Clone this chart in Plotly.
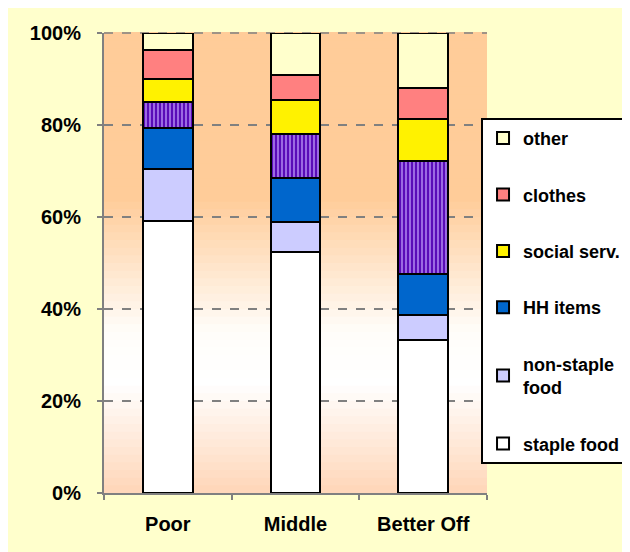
import plotly.graph_objects as go

groups = ["Poor", "Middle", "Better Off"]

# share of spending, percent (bottom to top of each bar)
staple_food = [59.1, 52.3, 33.2]
non_staple_food = [11.3, 6.7, 5.4]
hh_items = [9.0, 9.5, 9.1]
unlabelled = [5.5, 9.5, 24.5]  # hatched purple segment, not shown in legend
social_serv = [5.2, 7.4, 9.0]
clothes = [6.1, 5.4, 6.9]
other = [3.8, 9.2, 11.9]

y_ticks = [0, 20, 40, 60, 80, 100]
y_tick_labels = ["0%", "20%", "40%", "60%", "80%", "100%"]

series = [
    ("staple food", staple_food, "#FFFFFF", True),
    ("non-staple<br>food", non_staple_food, "#CCCCFF", True),
    ("HH items", hh_items, "#0066CC", True),
    ("unlabelled", unlabelled, "#5A0CB8", False),
    ("social serv.", social_serv, "#FFF200", True),
    ("clothes", clothes, "#FF8080", True),
    ("other", other, "#FFFFCC", True),
]

FONT = "Liberation Sans, Arial, sans-serif"

fig = go.Figure()
for i, (name, vals, color, show) in enumerate(series):
    marker = dict(color=color, line=dict(color="black", width=2))
    if not show:
        marker["pattern"] = dict(shape="|", fgcolor="#C9A8FF", bgcolor=color,
                                 size=4, solidity=0.3, fillmode="replace")
    fig.add_trace(go.Bar(x=groups, y=vals, name=name, marker=marker,
                         showlegend=show, legendgroup=f"g{i}",
                         legendrank=len(series) - i))


def mix(c1, c2, t):
    return "rgb({},{},{})".format(*[round(a + (b - a) * t) for a, b in zip(c1, c2)])


# background gradient of the plot area (orange at top, white in the middle)
stops = [(0.0, (255, 214, 184)), (0.24, (255, 255, 255)), (0.35, (255, 253, 250)),
         (0.64, (255, 204, 153)), (1.0, (255, 204, 153))]
n = 60
shapes = []
for k in range(n):
    y0, y1 = k / n, (k + 1) / n
    ym = (y0 + y1) / 2
    for (a, ca), (b, cb) in zip(stops[:-1], stops[1:]):
        if a <= ym <= b:
            col = mix(ca, cb, (ym - a) / (b - a))
            break
    shapes.append(dict(type="rect", xref="x domain", yref="y domain", x0=0, x1=1,
                       y0=y0, y1=y1 + 0.002, fillcolor=col, line_width=0, layer="below"))

# dashed gridline along the top edge
shapes.append(dict(type="line", xref="x domain", yref="y domain", x0=0, x1=1, y0=1, y1=1,
                   line=dict(color="#808080", width=1.5, dash="dash"), layer="below"))

fig.update_layout(
    width=622, height=544,
    margin=dict(l=96, r=143, t=25, b=59, autoexpand=False),
    barmode="stack", bargap=0.61,
    paper_bgcolor="#FFFFCC", plot_bgcolor="#FFCC99",
    font=dict(family=FONT, size=18, color="black"),
    shapes=shapes,
    legend=dict(xref="container", yref="container", x=0.7605, y=0.798,
                xanchor="left", yanchor="top", maxheight=420,
                traceorder="grouped", tracegroupgap=30,
                bgcolor="white", bordercolor="black", borderwidth=2,
                font=dict(family=FONT, size=18, weight="bold"), itemwidth=30),
)
fig.update_xaxes(showline=True, linecolor="#808080", linewidth=2,
                 ticks="outside", tickson="boundaries", tickcolor="#808080",
                 ticklen=5, tickwidth=1.5, ticklabelstandoff=12,
                 tickfont=dict(family=FONT, size=20, weight="bold"))
fig.update_yaxes(range=[0, 100], tickvals=y_ticks, ticktext=y_tick_labels,
                 showline=True, linecolor="#808080", linewidth=2,
                 ticks="outside", tickcolor="#808080", ticklen=5, tickwidth=1.5,
                 ticklabelstandoff=12,
                 showgrid=True, gridcolor="#808080", gridwidth=1.5, griddash="dash",
                 zeroline=False,
                 tickfont=dict(family=FONT, size=20, weight="bold"))

fig.write_html("out.html")
